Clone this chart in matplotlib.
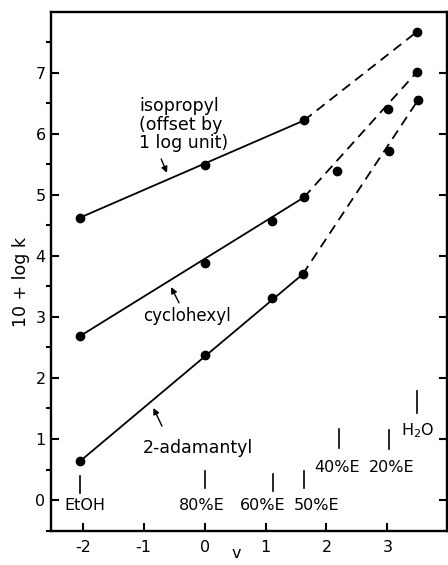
import matplotlib
matplotlib.use("Agg")
import matplotlib.pyplot as plt

plt.rcParams['font.family'] = ['DejaVu Sans']
plt.rcParams['axes.unicode_minus'] = False

# Datos
v_solventes = [-2.04, 0.0, 1.12, 1.63, 2.20, 3.03, 3.48]
nombres_solventes = ["EtOH", "80%E", "60%E", "50%E", "40%E", "20%E", "H$_2$O"]

v_isopropil = [-2.04, 0.0, 1.63, 3.48]
logk_isopropil = [4.63, 5.49, 6.22, 7.67]

v_ciclohexil = [-2.04, 0.0, 1.10, 1.63, 2.17, 3.01, 3.48]
logk_ciclohexil = [2.69, 3.88, 4.58, 4.96, 5.39, 6.40, 7.01]

v_adamantil = [-2.04, 0.0, 1.10, 1.61, 3.02, 3.50]
logk_adamantil = [0.64, 2.37, 3.31, 3.70, 5.72, 6.55]

fig = plt.figure(figsize=(4.48, 5.65), dpi=100)
ax = fig.add_axes([0.114, 0.061, 0.884, 0.918])

series = [
    (v_isopropil, logk_isopropil, 2),
    (v_ciclohexil, logk_ciclohexil, 3),
    (v_adamantil, logk_adamantil, 3),
]
for v, lk, i50 in series:
    # tramo sólido EtOH -> 50%E, tramo discontinuo 50%E -> H2O
    ax.plot([v[0], v[i50]], [lk[0], lk[i50]], color='k', lw=1.3)
    ax.plot([v[i50], v[-1]], [lk[i50], lk[-1]], color='k', lw=1.3,
            dashes=(5.5, 3.5))
    ax.plot(v, lk, 'o', color='k', ms=6, zorder=3)

# marcas de solventes
marca_y = [(0.12, 0.39), (0.19, 0.47), (0.14, 0.43), (0.19, 0.47),
           (0.86, 1.17), (0.84, 1.14), (1.43, 1.78)]
texto_pos = [(-1.96, -0.09), (-0.04, -0.09), (0.96, -0.09), (1.84, -0.09),
             (2.17, 0.53), (3.07, 0.53), (3.49, 1.14)]
for v, (y0, y1), (tx, ty), nombre in zip(v_solventes, marca_y, texto_pos, nombres_solventes):
    ax.plot([v, v], [y0, y1], color='k', lw=1.2)
    ax.text(tx, ty, nombre, ha='center', va='center', fontsize=11.5)

# etiquetas con flechas
flecha = dict(arrowstyle='-|>', color='k', lw=1.0, mutation_scale=9)
ax.text(-1.07, 6.15, "isopropyl\n(offset by\n1 log unit)", ha='left',
        va='center', fontsize=12.5, linespacing=1.05)
ax.annotate("", xy=(-0.60, 5.32), xytext=(-0.73, 5.63), arrowprops=flecha)
ax.text(-0.29, 3.01, "cyclohexyl", ha='center', va='center', fontsize=12)
ax.annotate("", xy=(-0.57, 3.53), xytext=(-0.40, 3.19), arrowprops=flecha)
ax.text(-0.11, 0.86, "2-adamantyl", ha='center', va='center', fontsize=12.5)
ax.annotate("", xy=(-0.86, 1.55), xytext=(-0.68, 1.17), arrowprops=flecha)

ax.set_xlim(-2.52, 3.98)
ax.set_ylim(-0.5, 8.0)
ax.set_xticks([-2, -1, 0, 1, 2, 3])
ax.set_yticks(range(0, 8))
ax.set_yticks([x + 0.5 for x in range(-1, 8)], minor=True)
ax.tick_params(axis='both', direction='in', labelsize=11.5, width=1.5)
ax.tick_params(axis='x', length=6, pad=7)
ax.tick_params(axis='y', which='major', length=6, pad=4, right=True)
ax.tick_params(axis='y', which='minor', length=3.5, width=1.5, right=True)
for s in ax.spines.values():
    s.set_linewidth(1.7)

ax.set_ylabel("10 + log k", fontsize=12.5)
ax.yaxis.set_label_coords(-0.053, 0.48)
ax.set_xlabel("v", fontsize=11.5)
ax.xaxis.set_label_coords(0.467, -0.030)

fig.savefig("out.png", dpi=100)
